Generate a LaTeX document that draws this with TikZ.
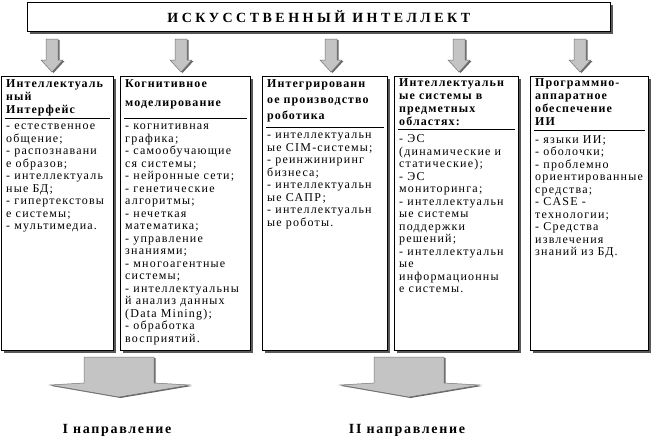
\documentclass[tikz,border=0pt]{standalone}
\usepackage{fontspec}
\setmainfont{Liberation Serif}
\newfontfamily\boxfont[LetterSpace=10]{Liberation Serif}
\newfontfamily\headfont[LetterSpace=9]{Liberation Serif}
\newfontfamily\titlefont[LetterSpace=25]{Liberation Serif}
\newfontfamily\dirfont[LetterSpace=12]{Liberation Serif}
\usetikzlibrary{shadows,calc}

\newcommand*{\paneltop}{76}
\newcommand*{\panelht}{274}

\begin{document}
\begin{tikzpicture}
[
	x=1pt,y=-1pt,
	panel/.style={draw,fill=white,line width=0.7pt,anchor=north west,minimum height=\panelht,inner sep=0pt,
		drop shadow={shadow xshift=2.5pt,shadow yshift=-2.5pt,fill=black!65,opacity=1}},
	headtext/.style={anchor=north west,inner sep=0pt,align=left,font=\headfont\bfseries\fontsize{12}{13}\selectfont},
	listtext/.style={anchor=north west,inner sep=0pt,align=left,font=\boxfont\fontsize{12}{12.5}\selectfont},
	arrowblock/.style={fill=black!23,draw=black!55,line width=0.5pt,
		drop shadow={shadow xshift=1.5pt,shadow yshift=-1pt,fill=black!60,opacity=1}},
	divider/.style={line width=0.7pt},
	dirtext/.style={font=\dirfont\bfseries\fontsize{14}{16}\selectfont}
]

	\useasboundingbox (0,0) rectangle (658,442);

	% title
	\node[panel,minimum width=583,minimum height=29] (ai) at (27,2) {};
	\node[font=\titlefont\bfseries\fontsize{14}{16}\selectfont] (title) at (ai.center) {ИСКУССТВЕННЫЙ ИНТЕЛЛЕКТ};

	% small arrows
	\foreach \cx in {52,181,331,459,580}
		\draw[arrowblock] (\cx-6,39) -- (\cx+6,39) -- (\cx+6,60) -- (\cx+11,60) -- (\cx,72) -- (\cx-11,60) -- (\cx-6,60) -- cycle;

	% panels
	\node[panel,minimum width=112] (p1) at (1,\paneltop) {};
	\node[panel,minimum width=130] (p2) at (120,\paneltop) {};
	\node[panel,minimum width=125] (p3) at (262,\paneltop) {};
	\node[panel,minimum width=124] (p4) at (394,\paneltop) {};
	\node[panel,minimum width=118] (p5) at (530,\paneltop) {};

	\node[headtext] (h1) at ($(p1.north west)+(5,3)$) {Интеллектуаль\\ный\\Интерфейс};
	\node[headtext] (h2) at ($(p2.north west)+(5,3)$) {Когнитивное\\[6pt]моделирование};
	\node[headtext] (h3) at ($(p3.north west)+(5,3)$) {Интегрированн\\[3pt]ое производство\\[3pt]роботика};
	\node[headtext] (h4) at ($(p4.north west)+(5,2)$) {Интеллектуальн\\ые системы в\\предметных\\областях:};
	\node[headtext] (h5) at ($(p5.north west)+(5,2)$) {Программно-\\аппаратное\\обеспечение\\ИИ};

	% rules under the headings
	\foreach \i/\gap in {1/3,2/10,3/6,4/4,5/5}
	{
		\coordinate (r\i) at ($(h\i.south west)+(0,\gap)$);
		\draw[divider] ($(r\i -| p\i.west)+(4,0)$) -- ($(r\i -| p\i.east)+(-4,0)$);
	}

	\node[listtext] (l1) at ($(r1)+(0,5)$) {- естественное\\общение;\\- распознавани\\е образов;\\- интеллектуаль\\ные БД;\\- гипертекстовы\\е системы;\\- мультимедиа.};
	\node[listtext] (l2) at ($(r2)+(0,5)$) {- когнитивная\\графика;\\- самообучающие\\ся системы;\\- нейронные сети;\\- генетические\\алгоритмы;\\- нечеткая\\математика;\\- управление\\знаниями;\\- многоагентные\\системы;\\- интеллектуальны\\й анализ данных\\(Data Mining);\\- обработка\\восприятий.};
	\node[listtext] (l3) at ($(r3)+(0,5)$) {- интеллектуальн\\ые CIM-системы;\\- реинжиниринг\\бизнеса;\\- интеллектуальн\\ые САПР;\\- интеллектуальн\\ые роботы.};
	\node[listtext] (l4) at ($(r4)+(0,5)$) {- ЭС\\(динамические и\\статические);\\- ЭС\\мониторинга;\\- интеллектуальн\\ые системы\\поддержки\\решений;\\- интеллектуальн\\ые\\информационны\\е системы.};
	\node[listtext] (l5) at ($(r5)+(0,5)$) {- языки ИИ;\\- оболочки;\\- проблемно\\ориентированные\\средства;\\- CASE -\\технологии;\\- Средства\\извлечения\\знаний из БД.};

	% directions
	\foreach \cx/\lab in {119/I,409/II}
	{
		\draw[arrowblock] (\cx-35,357) -- (\cx+35,357) -- (\cx+35,383) -- (\cx+71,385) -- (\cx,397) -- (\cx-69,385) -- (\cx-35,383) -- cycle;
		\node[dirtext] (dir\lab) at (\cx-2,430) {\lab\ направление};
	}

\end{tikzpicture}
\end{document}
